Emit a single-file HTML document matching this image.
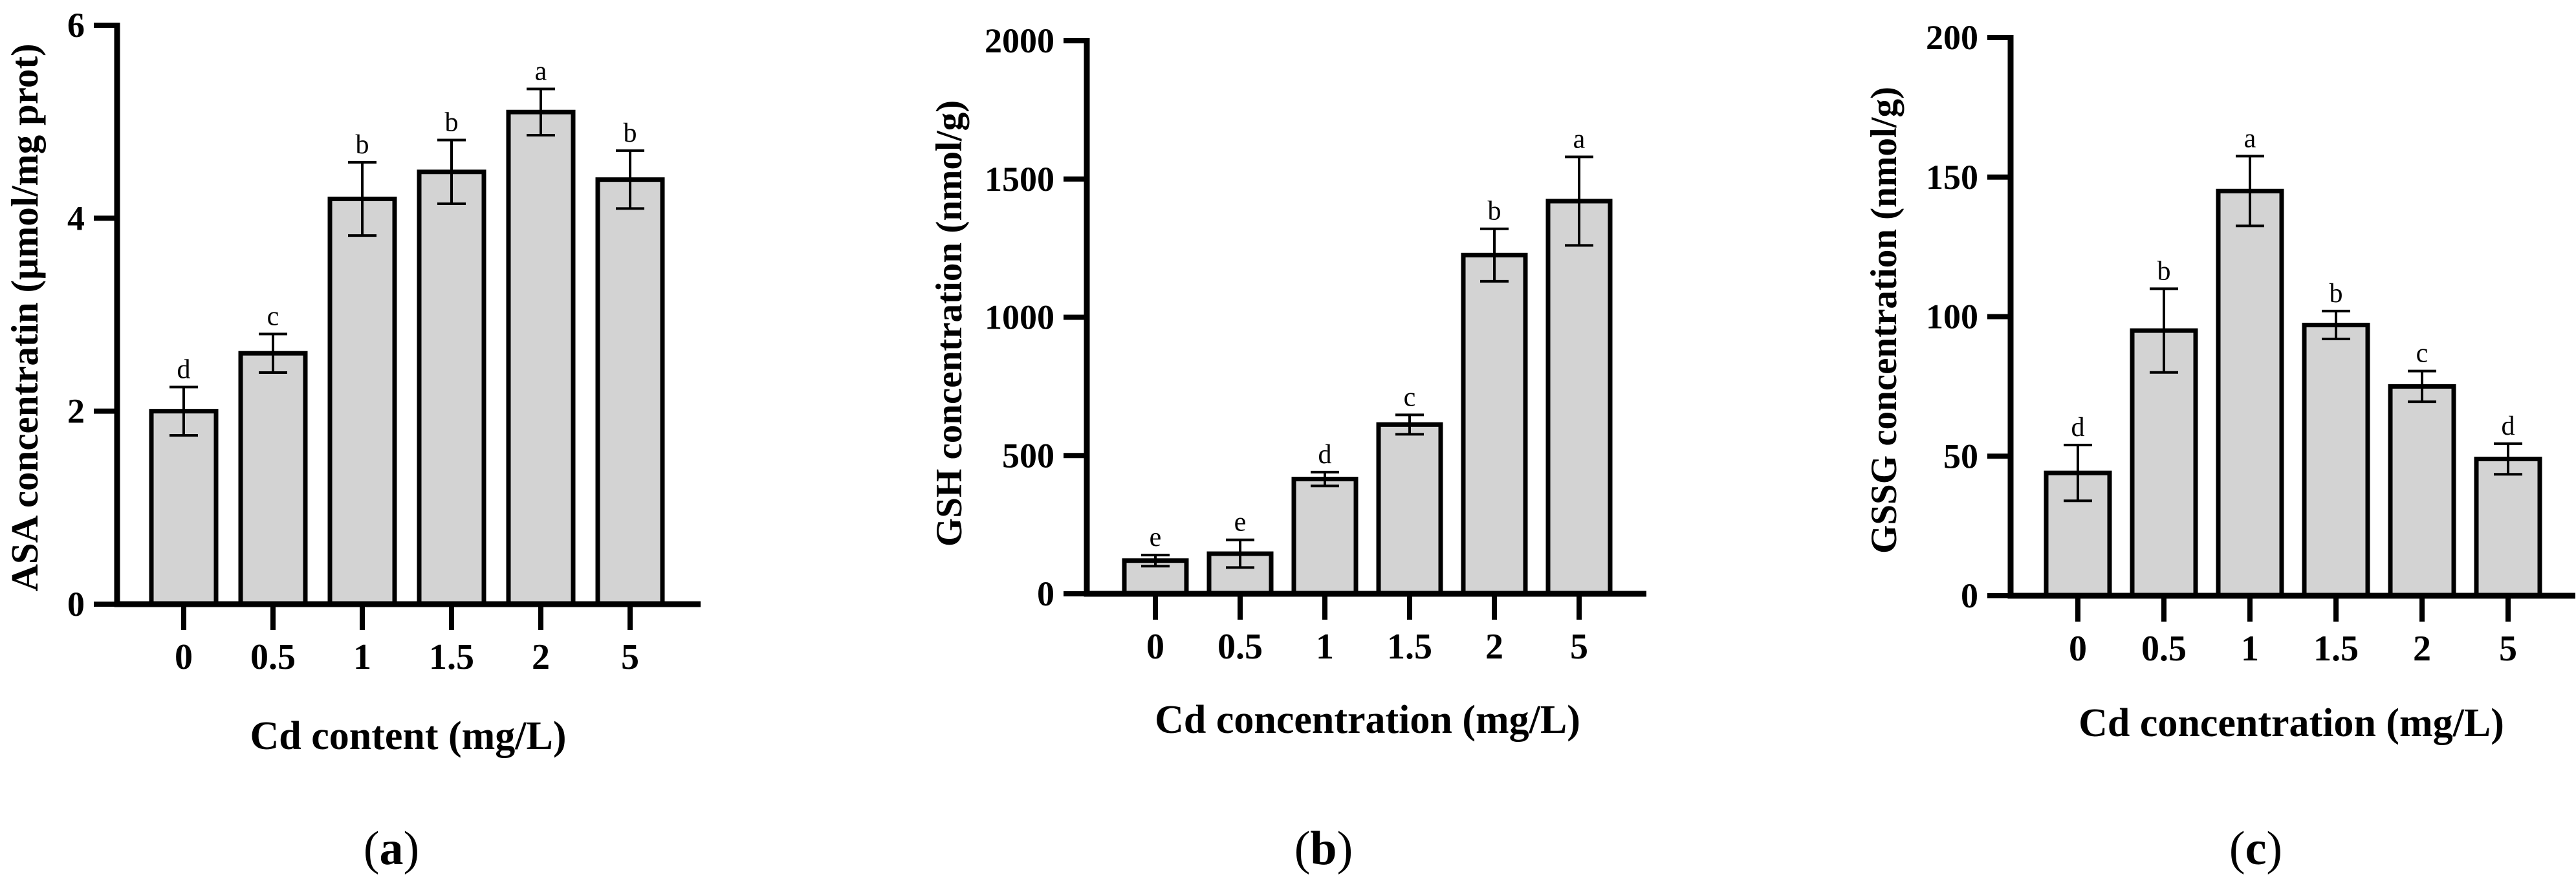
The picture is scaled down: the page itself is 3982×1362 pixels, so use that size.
<!DOCTYPE html>
<html><head><meta charset="utf-8"><style>
html,body{margin:0;padding:0;background:#fff;}
svg{display:block;}
text{font-family:"Liberation Serif",serif;fill:#000;}
</style></head><body>
<svg id="fig" width="3982" height="1362" viewBox="0 0 3982 1362" xmlns="http://www.w3.org/2000/svg"></svg>
<script>
const categories = ["0","0.5","1","1.5","2","5"];
const asaValues = [2.0, 2.6, 4.2, 4.48, 5.1, 4.4];
const asaErrors = [0.25, 0.2, 0.38, 0.33, 0.24, 0.3];
const asaLetters = ["d","c","b","b","a","b"];
const asaTicks = [0, 2, 4, 6];
const gshValues = [120, 145, 415, 612, 1225, 1420];
const gshErrors = [20, 50, 25, 35, 95, 160];
const gshLetters = ["e","e","d","c","b","a"];
const gshTicks = [0, 500, 1000, 1500, 2000];
const gssgValues = [44, 95, 145, 97, 75, 49];
const gssgErrors = [10, 15, 12.5, 5, 5.5, 5.5];
const gssgLetters = ["d","b","a","b","c","d"];
const gssgTicks = [0, 50, 100, 150, 200];

const NS = "http://www.w3.org/2000/svg";
const svg = document.getElementById("fig");
function mk(tag, attrs, parent, txt){
  const e = document.createElementNS(NS, tag);
  for (const k in attrs) e.setAttribute(k, attrs[k]);
  if (txt !== undefined) e.textContent = txt;
  parent.appendChild(e);
  return e;
}
function panel(cfg){
  const g = mk("g", {}, svg);
  
  
  const maxV = cfg.ticks[cfg.ticks.length-1];
  const y = v => cfg.y0 - (v / maxV) * (cfg.y0 - cfg.yTop);
  const x = i => cfg.x1 + i * cfg.step;
  cfg.values.forEach((v, i) => {
    const r = mk("rect", {x: x(i) - cfg.bw/2, y: y(v), width: cfg.bw, height: cfg.y0 - y(v), fill: "#d3d3d3", stroke: "#000", "stroke-width": 7}, g);
    
    
    const hi = y(v + cfg.errs[i]), lo = y(v - cfg.errs[i]);
    const eb = mk("path", {d: `M${x(i)},${hi}V${lo}M${x(i)-22},${hi}H${x(i)+22}M${x(i)-22},${lo}H${x(i)+22}`, stroke: "#000", "stroke-width": 4, fill: "none"}, g);
    
    
    const lt = mk("text", {x: x(i), y: hi - 14, "text-anchor": "middle", "font-size": 42}, g, cfg.letters[i]);
    
    
    const tk = mk("line", {x1: x(i), x2: x(i), y1: cfg.y0, y2: cfg.y0 + 40, stroke: "#000", "stroke-width": 8}, g);
    
    
    const tl = mk("text", {x: x(i), y: cfg.y0 + 100, "text-anchor": "middle", "font-size": 56, "font-weight": "bold"}, g, categories[i]);
    
    
  });
  const ax = mk("path", {d: `M${cfg.ax},${cfg.yTop-4}V${cfg.y0}H${cfg.xEnd}`, stroke: "#000", "stroke-width": 9, fill: "none"}, g);
  
  
  cfg.ticks.forEach(t => {
    const tk = mk("line", {x1: cfg.ax - 36, x2: cfg.ax, y1: y(t), y2: y(t), stroke: "#000", "stroke-width": 8}, g);
    
    
    const tl = mk("text", {x: cfg.ax - 50, y: y(t) + 18, "text-anchor": "end", "font-size": 54, "font-weight": "bold"}, g, String(t));
    
    
  });
  const yt = mk("text", {x: 0, y: 0, transform: `translate(${cfg.ytx},${cfg.yty}) rotate(-90)`, "text-anchor": "middle", "font-size": cfg.ytSize, "font-weight": "bold"}, g, cfg.ytitle);
  
  
  const xt = mk("text", {x: cfg.xtx, y: cfg.xty, "text-anchor": "middle", "font-size": 62, "font-weight": "bold"}, g, cfg.xtitle);
  
  
  const pl = mk("text", {x: cfg.plx, y: 1336, "text-anchor": "middle", "font-size": 74}, g);
  
  
  mk("tspan", {}, pl, "(");
  mk("tspan", {"font-weight": "bold"}, pl, cfg.pl);
  mk("tspan", {}, pl, ")");
}
panel({name:"panel-a-asa", values:asaValues, errs:asaErrors, letters:asaLetters, ticks:asaTicks,
  y0:934, yTop:39, ax:181, xEnd:1083, x1:284, step:138, bw:100,
  ytitle:"ASA concentratin (\u00b5mol/mg prot)", ytx:58, yty:491, ytSize:59,
  xtitle:"Cd content (mg/L)", xtx:631, xty:1158, plx:605, pl:"a"});
panel({name:"panel-b-gsh", values:gshValues, errs:gshErrors, letters:gshLetters, ticks:gshTicks,
  y0:918, yTop:63, ax:1680, xEnd:2545, x1:1786, step:131, bw:96,
  ytitle:"GSH concentration (nmol/g)", ytx:1486, yty:500, ytSize:57,
  xtitle:"Cd concentration (mg/L)", xtx:2114, xty:1133, plx:2046, pl:"b"});
panel({name:"panel-c-gssg", values:gssgValues, errs:gssgErrors, letters:gssgLetters, ticks:gssgTicks,
  y0:921, yTop:58, ax:3108, xEnd:3981, x1:3212, step:133, bw:98,
  ytitle:"GSSG concentration (nmol/g)", ytx:2931, yty:495, ytSize:57,
  xtitle:"Cd concentration (mg/L)", xtx:3542, xty:1138, plx:3487, pl:"c"});
</script>
</body></html>
